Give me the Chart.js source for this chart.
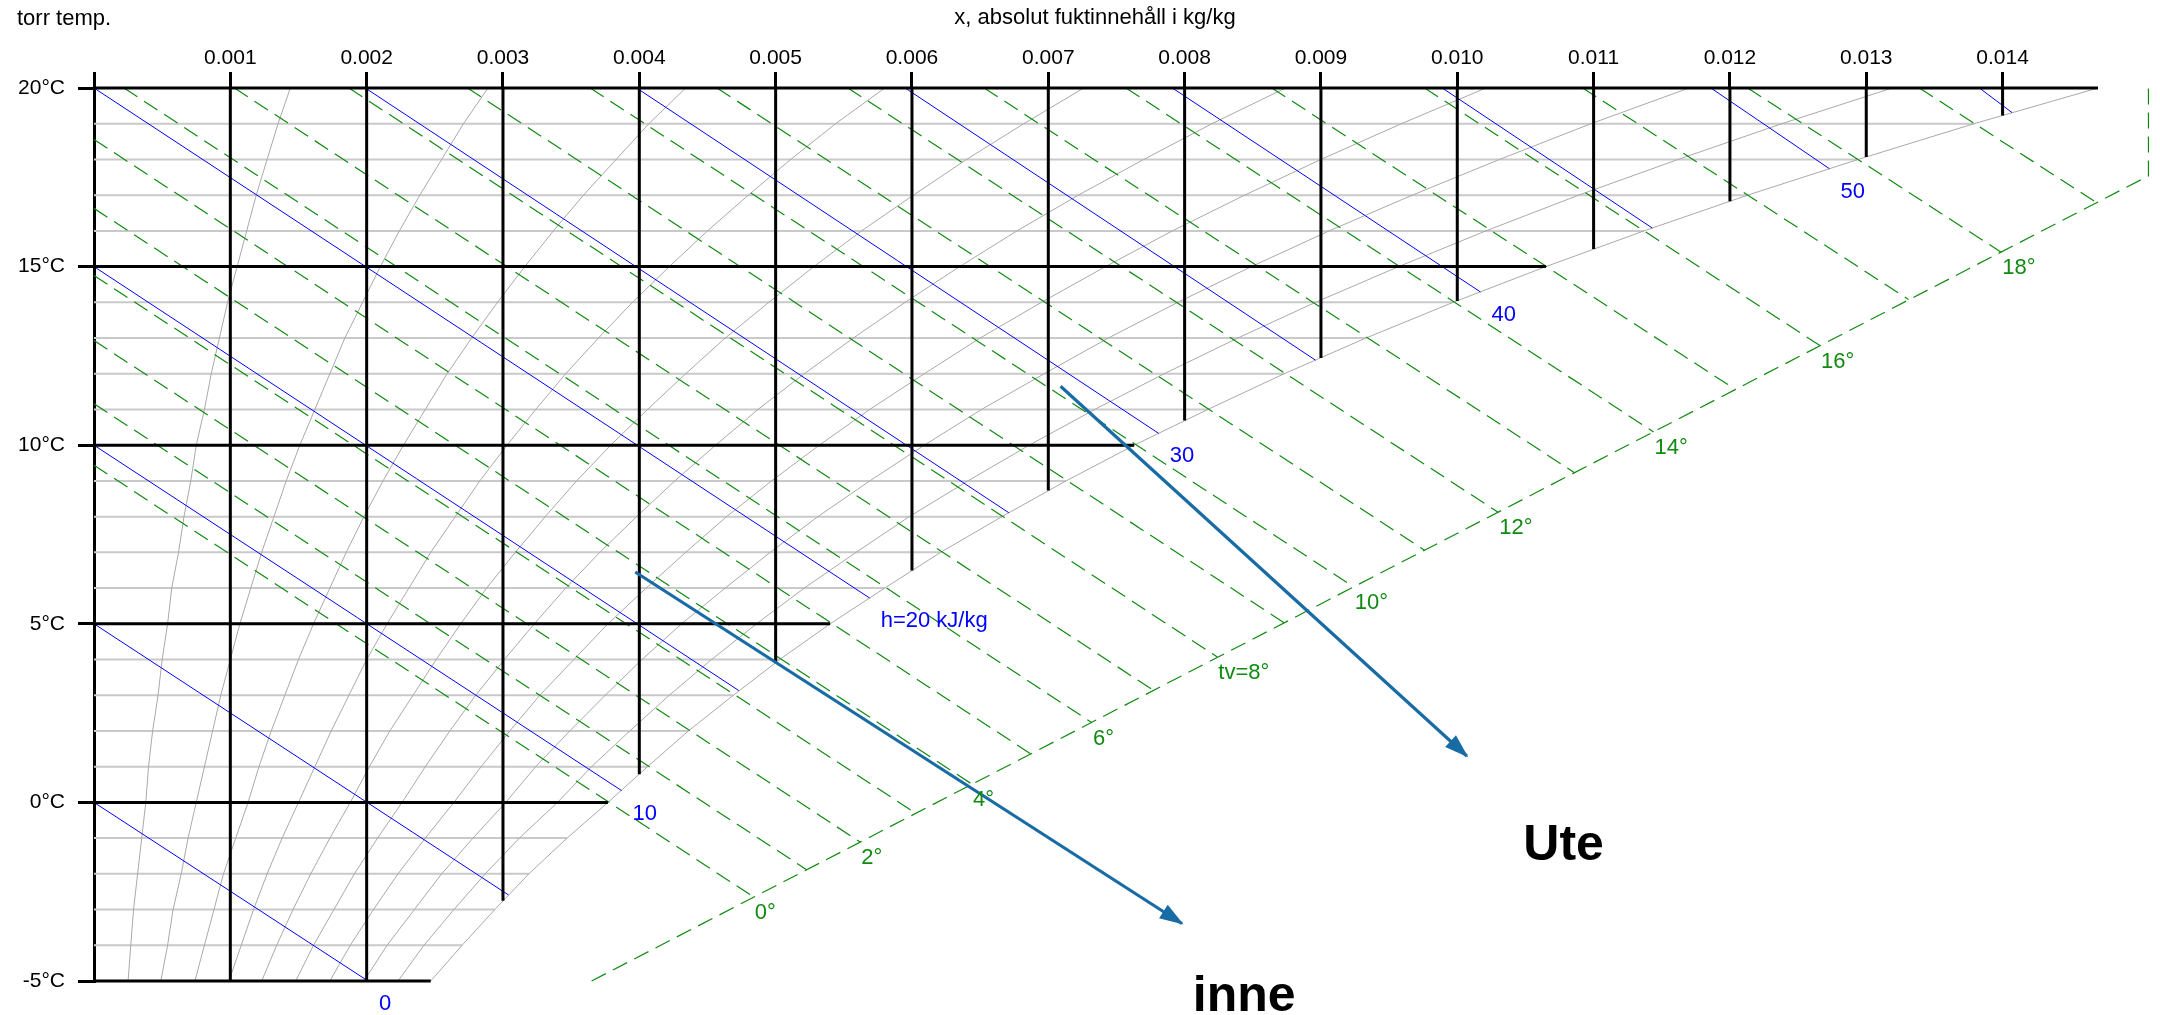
<!DOCTYPE html>
<html>
<head>
<meta charset="utf-8">
<title>h-x-diagram</title>
<script src="https://cdn.jsdelivr.net/npm/chart.js@4.4.1/dist/chart.umd.min.js"></script>
<style>
  html, body { margin: 0; padding: 0; background: #ffffff; }
  #wrap { width: 2160px; height: 1015px; position: relative; }
</style>
</head>
<body>
<div id="wrap"><canvas id="chart"></canvas></div>
<script>
// ---------------------------------------------------------------------------
// Data (moisture contents in g/kg, temperatures in °C)
// ---------------------------------------------------------------------------

// Dry-bulb temperatures at which the humidity curves are sampled
const temps = [-5,-4,-3,-2,-1,0,1,2,3,4,5,6,7,8,9,10,11,12,13,14,15,16,17,18,19,20];

// Moisture content on the relative humidity curves 10 % ... 90 % and at saturation
const rh10 = [0.25,0.27,0.29,0.32,0.35,0.38,0.40,0.43,0.47,0.50,0.54,0.57,0.62,0.66,0.71,0.75,0.81,0.86,0.92,0.98,1.05,1.12,1.19,1.27,1.35,1.44];
const rh20 = [0.49,0.54,0.58,0.64,0.69,0.75,0.81,0.87,0.93,1.00,1.07,1.15,1.23,1.32,1.41,1.51,1.62,1.73,1.84,1.97,2.10,2.24,2.39,2.55,2.71,2.89];
const rh30 = [0.74,0.81,0.88,0.95,1.04,1.13,1.21,1.30,1.40,1.50,1.61,1.73,1.85,1.98,2.12,2.27,2.43,2.59,2.77,2.96,3.16,3.37,3.59,3.83,4.07,4.34];
const rh40 = [0.99,1.08,1.17,1.27,1.38,1.50,1.62,1.74,1.87,2.00,2.15,2.31,2.47,2.65,2.83,3.03,3.24,3.46,3.70,3.95,4.22,4.50,4.80,5.11,5.44,5.80];
const rh50 = [1.23,1.34,1.46,1.59,1.73,1.88,2.02,2.17,2.34,2.51,2.69,2.88,3.09,3.31,3.54,3.79,4.06,4.34,4.63,4.95,5.28,5.63,6.01,6.40,6.82,7.26];
const rh60 = [1.48,1.61,1.76,1.91,2.08,2.26,2.43,2.61,2.80,3.01,3.23,3.46,3.71,3.98,4.26,4.56,4.87,5.21,5.57,5.95,6.35,6.77,7.22,7.70,8.20,8.74];
const rh70 = [1.73,1.88,2.05,2.23,2.43,2.64,2.84,3.05,3.27,3.52,3.77,4.05,4.34,4.64,4.97,5.32,5.69,6.09,6.50,6.95,7.42,7.91,8.44,9.00,9.59,10.21];
const rh80 = [1.98,2.15,2.35,2.55,2.78,3.02,3.24,3.49,3.75,4.02,4.31,4.63,4.96,5.31,5.69,6.09,6.51,6.97,7.44,7.95,8.49,9.06,9.67,10.31,10.98,11.70];
const rh90 = [2.23,2.42,2.64,2.87,3.12,3.40,3.65,3.93,4.22,4.53,4.86,5.21,5.59,5.98,6.41,6.86,7.34,7.85,8.39,8.96,9.57,10.21,10.89,11.62,12.38,13.19];
const rhSat = [2.47,2.70,2.94,3.19,3.47,3.77,4.06,4.36,4.69,5.03,5.40,5.80,6.21,6.66,7.13,7.63,8.17,8.73,9.33,9.97,10.65,11.37,12.13,12.94,13.79,14.70];

// Axis ticks
const xTickValues = [0,1,2,3,4,5,6,7,8,9,10,11,12,13,14];
const xTickLabels = ['', '0.001','0.002','0.003','0.004','0.005','0.006','0.007','0.008','0.009','0.010','0.011','0.012','0.013','0.014'];
const yTickValues = [-5,0,5,10,15,20];
const yTickLabels = ['-5°C','0°C','5°C','10°C','15°C','20°C'];

// Heavy moisture-content gridlines and the temperature where each meets saturation
const xGridValues = [1,2,3,4,5,6,7,8,9,10,11,12,13,14];
const xGridBottom = [-5,-5,-2.75,0.79,3.90,6.49,8.73,10.69,12.44,14.04,15.49,16.83,18.07,19.23];

// Enthalpy lines h (kJ/kg): start and end points
const hValues = [0,5,10,15,20,25,30,35,40,45,50,55];
const hStartX = [0,0,0,0,0,1.99,3.98,5.95,7.91,9.89,11.86,13.83];
const hStartT = [0,5,10,15,20,20,20,20,20,20,20,20];
const hEndX   = [2.01,3.04,3.87,4.73,5.69,6.71,7.81,8.96,10.17,11.43,12.73,14.07];
const hEndT   = [-5,-2.59,0.33,3.13,5.72,8.11,10.33,12.38,14.29,16.08,17.74,19.31];
const hLabelValues = [0,10,20,30,40,50];
const hLabelTexts  = ['0','10','h=20 kJ/kg','30','40','50'];

// Wet-bulb temperature lines tv (°C): start point and end on the tv scale
const tvValues = [0,1,2,3,4,5,6,7,8,9,10,11,12,13,14,15,16,17,18,19];
const tvStartX = [0,0,0,0,0,0,0.22,1.03,1.87,2.74,3.64,4.57,5.53,6.53,7.57,8.64,9.76,10.92,12.13,13.39];
const tvStartT = [9.44,11.16,12.93,14.75,16.63,18.56,20,20,20,20,20,20,20,20,20,20,20,20,20,20];
const tvEndX   = [4.84,5.23,5.62,6.03,6.44,6.87,7.32,7.77,8.24,8.73,9.24,9.76,10.30,10.86,11.44,12.04,12.66,13.31,13.99,14.69];
const tvEndT   = [-2.65,-1.89,-1.11,-0.31,0.51,1.36,2.23,3.14,4.07,5.03,6.03,7.06,8.12,9.23,10.37,11.56,12.79,14.08,15.40,16.79];
const tvLabelValues = [0,2,4,6,8,10,12,14,16,18];
const tvLabelTexts  = ['0°','2°','4°','6°','tv=8°','10°','12°','14°','16°','18°'];
// The tv scale line itself
const tvScaleX = [3.65,15.07,15.07];
const tvScaleT = [-5,17.54,20];

// Process arrows (outdoor / indoor) and their captions
const arrowNames = ['Ute','inne'];
const arrowFromX = [7.09, 3.97];
const arrowFromT = [11.65, 6.45];
const arrowToX   = [10.07, 7.98];
const arrowToT   = [1.30, -3.39];
const arrowTextX = [10.78, 8.06];
const arrowTextT = [-1.60, -5.83];
const arrowTextAlign = ['center','left'];

// ---------------------------------------------------------------------------
// Styling and chart construction
// ---------------------------------------------------------------------------
const FONT = '"Liberation Sans", Arial, Helvetica, sans-serif';
const kg = v => v / 1000;              // g/kg -> kg/kg for the x scale
const pt = (x, t) => ({ x: kg(x), y: t });

const datasets = [];
function addLine(points, style) {
  datasets.push(Object.assign({
    data: points, showLine: true, pointRadius: 0, pointHoverRadius: 0,
    fill: false, tension: 0, clip: false, borderWidth: 1
  }, style));
}

// 1 °C isotherms (light grey) up to saturation
temps.forEach((t, i) => addLine([pt(0, t), pt(rhSat[i], t)],
  { borderColor: '#c9c9c9', borderWidth: 2, order: 60 }));

// Relative humidity curves and the saturation curve
[rh10, rh20, rh30, rh40, rh50, rh60, rh70, rh80, rh90, rhSat].forEach(curve =>
  addLine(temps.map((t, i) => pt(curve[i], t)),
    { borderColor: '#a9a9a9', borderWidth: 1, order: 50 }));

// Wet-bulb lines and the tv scale
tvValues.forEach((v, i) => addLine([pt(tvStartX[i], tvStartT[i]), pt(tvEndX[i], tvEndT[i])],
  { borderColor: '#108a10', borderWidth: 1.2, borderDash: [16, 8], order: 30 }));
addLine(tvScaleX.map((x, i) => pt(x, tvScaleT[i])),
  { borderColor: '#108a10', borderWidth: 1.2, borderDash: [16, 8], order: 30 });

// Enthalpy lines
hValues.forEach((v, i) => addLine([pt(hStartX[i], hStartT[i]), pt(hEndX[i], hEndT[i])],
  { borderColor: '#0000ff', borderWidth: 1, order: 20 }));

// Heavy 5 °C isotherms
yTickValues.forEach(t => {
  const s = rhSat[temps.indexOf(t)];
  addLine([pt(0, t), pt(s, t)], { borderColor: '#000000', borderWidth: 3, order: 10 });
});

// Heavy moisture-content lines
xGridValues.forEach((x, i) => addLine([pt(x, 20), pt(x, xGridBottom[i])],
  { borderColor: '#000000', borderWidth: 3, order: 10 }));

// Arrow shafts
const ARROW = '#186ba5';
arrowNames.forEach((n, i) => addLine([pt(arrowFromX[i], arrowFromT[i]), pt(arrowToX[i], arrowToT[i])],
  { borderColor: ARROW, borderWidth: 3.2, order: 0 }));

// Labels, arrow heads and titles
const overlay = {
  id: 'overlay',
  afterDatasetsDraw(chart) {
    const { ctx } = chart;
    const xs = chart.scales.x, ys = chart.scales.y;
    const px = v => xs.getPixelForValue(kg(v));
    const py = t => ys.getPixelForValue(t);
    ctx.save();
    ctx.textBaseline = 'alphabetic';

    // titles
    ctx.fillStyle = '#000';
    ctx.font = '22px ' + FONT;
    ctx.textAlign = 'left';
    ctx.fillText('torr temp.', 17, 25);
    ctx.textAlign = 'center';
    ctx.fillText('x, absolut fuktinnehåll i kg/kg', 1095, 24);

    // enthalpy labels at the line ends
    ctx.font = '22px ' + FONT;
    ctx.fillStyle = '#0000ff';
    ctx.textAlign = 'left';
    hLabelValues.forEach((v, k) => {
      const i = hValues.indexOf(v);
      ctx.fillText(hLabelTexts[k], px(hEndX[i]) + 11, py(hEndT[i]) + 29);
    });

    // wet-bulb labels at the scale
    ctx.fillStyle = '#108a10';
    tvLabelValues.forEach((v, k) => {
      const i = tvValues.indexOf(v);
      ctx.fillText(tvLabelTexts[k], px(tvEndX[i]) + 1, py(tvEndT[i]) + 22);
    });

    // arrow heads
    ctx.fillStyle = ARROW;
    arrowNames.forEach((n, i) => {
      const x0 = px(arrowFromX[i]), y0 = py(arrowFromT[i]);
      const x1 = px(arrowToX[i]), y1 = py(arrowToT[i]);
      const a = Math.atan2(y1 - y0, x1 - x0);
      const L = 22, W = 8;
      ctx.beginPath();
      ctx.moveTo(x1 + 2 * Math.cos(a), y1 + 2 * Math.sin(a));
      ctx.lineTo(x1 - L * Math.cos(a) + W * Math.sin(a), y1 - L * Math.sin(a) - W * Math.cos(a));
      ctx.lineTo(x1 - L * Math.cos(a) - W * Math.sin(a), y1 - L * Math.sin(a) + W * Math.cos(a));
      ctx.closePath();
      ctx.fill();
    });

    // arrow captions
    ctx.fillStyle = '#000';
    ctx.font = 'bold 50px ' + FONT;
    arrowNames.forEach((n, i) => {
      ctx.textAlign = arrowTextAlign[i];
      ctx.fillText(n, px(arrowTextX[i]), py(arrowTextT[i]));
    });
    ctx.restore();
  }
};

new Chart(document.getElementById('chart'), {
  type: 'scatter',
  data: { datasets },
  options: {
    responsive: true,
    maintainAspectRatio: false,
    devicePixelRatio: 1,
    animation: false,
    events: [],
    layout: { padding: { top: 28, left: 0, right: 2, bottom: 34 } },
    plugins: { legend: { display: false }, tooltip: { enabled: false } },
    scales: {
      x: {
        type: 'linear', position: 'top', min: 0, max: kg(15.14),
        afterBuildTicks: s => { s.ticks = xTickValues.map(v => ({ value: kg(v) })); },
        afterFit: s => { s.height = 60; },
        grid: { drawOnChartArea: false, drawTicks: true, tickLength: 16, color: '#000', lineWidth: 3 },
        border: { display: false },
        ticks: {
          autoSkip: false, maxRotation: 0, minRotation: 0, padding: 1,
          color: '#000', font: { family: FONT, size: 21 },
          callback: (v, i) => xTickLabels[i]
        }
      },
      y: {
        type: 'linear', position: 'left', min: -5, max: 20,
        afterBuildTicks: s => { s.ticks = yTickValues.map(v => ({ value: v })); },
        afterFit: s => { s.width = 94; },
        grid: { drawOnChartArea: false, drawTicks: true, tickLength: 16, color: '#000', lineWidth: 3 },
        border: { display: true, color: '#000', width: 3 },
        ticks: {
          autoSkip: false, padding: 13,
          color: '#000', font: { family: FONT, size: 21 },
          callback: (v, i) => yTickLabels[i]
        }
      }
    }
  },
  plugins: [overlay]
});
</script>
</body>
</html>
